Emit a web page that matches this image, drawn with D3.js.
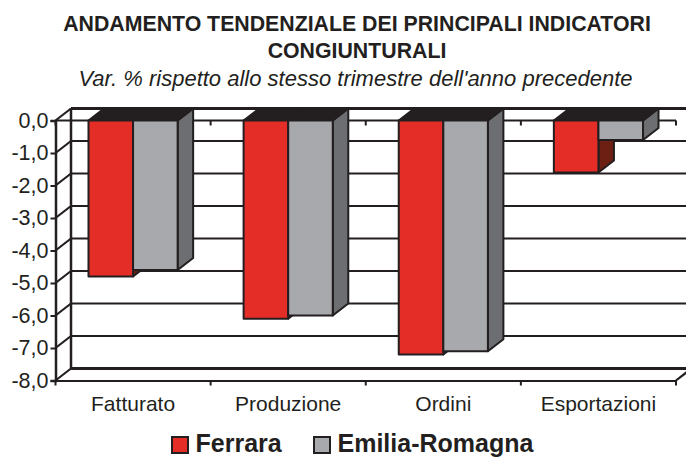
<!DOCTYPE html>
<html>
<head>
<meta charset="utf-8">
<script src="https://cdnjs.cloudflare.com/ajax/libs/d3/7.8.5/d3.min.js"></script>
<style>
  html, body { margin: 0; padding: 0; background: #fff; }
  svg { display: block; font-family: "Liberation Sans", Arial, sans-serif; }
  text { fill: #231f20; }
</style>
</head>
<body>
<svg id="chart" width="686" height="457"></svg>
<script>
const categories = ["Fatturato", "Produzione", "Ordini", "Esportazioni"];
const seriesNames = ["Ferrara", "Emilia-Romagna"];
const ferrara = [-4.8, -6.1, -7.2, -1.6];
const emilia = [-4.6, -6.0, -7.1, -0.6];
const yTicks = [0, -1, -2, -3, -4, -5, -6, -7, -8];
const titleLines = ["ANDAMENTO TENDENZIALE DEI PRINCIPALI INDICATORI", "CONGIUNTURALI"];
const subtitle = "Var. % rispetto allo stesso trimestre dell'anno precedente";

const INK = "#231f20";
const fronts = ["#e52d27", "#a7a9ac"];
const sides = ["#6e1f14", "#6d6e71"];

const plotLeft = 55.5, plotRight = 676, plotTop = 120.5, plotBottom = 380.5;
const dx = 15.5, dy = -12;

let svg = d3.select("#chart");

let x = d3.scaleBand().domain(categories).range([plotLeft, plotRight]);
let xInner = d3.scaleBand().domain(seriesNames).range([0, x.bandwidth()]).paddingOuter(0.74).paddingInner(0);
let y = d3.scaleLinear().domain([0, -8]).range([plotTop, plotBottom]);

// TITLES
svg.selectAll(".title")
  .data(titleLines)
  .enter()
  .append("text")
  .attr("class", "title")
  .attr("x", 357)
  .attr("y", (d, i) => 31 + i * 27)
  .attr("text-anchor", "middle")
  .style("font-size", "21.3px")
  .style("font-weight", "bold")
  .text(d => d);
svg.append("text")
  .attr("x", 355.5)
  .attr("y", 85.5)
  .attr("text-anchor", "middle")
  .style("font-size", "22px")
  .style("font-style", "italic")
  .text(subtitle);

// BACK WALL AND GRIDLINES
let grid = svg.append("g");
grid.selectAll("line.grid")
  .data(yTicks)
  .enter()
  .append("line")
  .attr("class", "grid")
  .attr("x1", plotLeft + dx)
  .attr("x2", 686)
  .attr("y1", d => y(d) + dy)
  .attr("y2", d => y(d) + dy)
  .attr("stroke", INK)
  .attr("stroke-width", d => (d === 0 || d === -8 ? 3 : 2.2));
grid.selectAll("line.wall")
  .data(yTicks)
  .enter()
  .append("line")
  .attr("class", "wall")
  .attr("x1", plotLeft)
  .attr("x2", plotLeft + dx)
  .attr("y1", d => y(d))
  .attr("y2", d => y(d) + dy)
  .attr("stroke", INK)
  .attr("stroke-width", 2.2);
grid.append("line")
  .attr("x1", plotLeft + dx)
  .attr("x2", plotLeft + dx)
  .attr("y1", y(0) + dy)
  .attr("y2", y(-8) + dy)
  .attr("stroke", INK)
  .attr("stroke-width", 2.5);
grid.append("line")
  .attr("x1", plotRight)
  .attr("x2", plotRight + dx)
  .attr("y1", y(-8))
  .attr("y2", y(-8) + dy)
  .attr("stroke", INK)
  .attr("stroke-width", 2.2);

// FRONT AXIS AT ZERO WITH ITS INSIDE TICKS
let boundaries = x.domain().map(d => x(d) + x.bandwidth()).concat([plotLeft]);
svg.append("line")
  .attr("x1", plotLeft)
  .attr("x2", plotRight)
  .attr("y1", y(0))
  .attr("y2", y(0))
  .attr("stroke", INK)
  .attr("stroke-width", 1.8);
svg.selectAll("line.zeroTick")
  .data(boundaries)
  .enter()
  .append("line")
  .attr("class", "zeroTick")
  .attr("x1", d => d)
  .attr("x2", d => d)
  .attr("y1", y(0))
  .attr("y2", y(0) + 5)
  .attr("stroke", INK)
  .attr("stroke-width", 2);

// BARS
function poly(pts) {
  return "M" + pts.map(p => p.join(",")).join("L") + "Z";
}
let barData = [];
categories.forEach((c, i) => {
  barData.push({ cat: c, s: 0, v: ferrara[i] });
  barData.push({ cat: c, s: 1, v: emilia[i] });
});
let bars = svg.append("g")
  .selectAll("g")
  .data(barData)
  .enter()
  .append("g")
  .attr("stroke", INK)
  .attr("stroke-width", 2)
  .attr("stroke-linejoin", "round");
function barX(d) {
  return x(d.cat) + xInner(seriesNames[d.s]);
}
// side face
bars.append("path")
  .attr("fill", d => sides[d.s])
  .attr("d", d => {
    let x1 = barX(d) + xInner.bandwidth();
    return poly([[x1, y(0)], [x1 + dx, y(0) + dy], [x1 + dx, y(d.v) + dy], [x1, y(d.v)]]);
  });
// top face
bars.append("path")
  .attr("fill", INK)
  .attr("d", d => {
    let x0 = barX(d), x1 = x0 + xInner.bandwidth();
    return poly([[x0, y(0)], [x0 + dx, y(0) + dy], [x1 + dx, y(0) + dy], [x1, y(0)]]);
  });
// front face
bars.append("rect")
  .attr("x", barX)
  .attr("y", y(0))
  .attr("width", xInner.bandwidth())
  .attr("height", d => y(d.v) - y(0))
  .attr("fill", d => fronts[d.s]);

// AXES
let yAxis = d3.axisLeft(y)
  .tickValues(yTicks)
  .tickSize(5)
  .tickPadding(2)
  .tickFormat(d => d3.format(".1f")(d).replace(".", ",").replace("−", "-"));
let yG = svg.append("g")
  .attr("transform", "translate(" + plotLeft + ",0)")
  .call(yAxis);
yG.select(".domain").attr("stroke", INK).attr("stroke-width", 2.5);
yG.selectAll(".tick line").attr("stroke", INK).attr("stroke-width", 2);
yG.selectAll("text").style("font-size", "21.5px").style("fill", INK);

let xAxis = d3.axisBottom(x).tickSize(0).tickPadding(16);
let xG = svg.append("g")
  .attr("transform", "translate(0," + plotBottom + ")")
  .call(xAxis);
xG.select(".domain").attr("stroke", INK).attr("stroke-width", 2.2);
xG.selectAll("text").style("font-size", "21px").style("fill", INK);
svg.selectAll("line.bottomTick")
  .data(boundaries)
  .enter()
  .append("line")
  .attr("class", "bottomTick")
  .attr("x1", d => d)
  .attr("x2", d => d)
  .attr("y1", plotBottom)
  .attr("y2", plotBottom + 5)
  .attr("stroke", INK)
  .attr("stroke-width", 2);

// LEGEND
let legendX = [172, 314];
let legend = svg.selectAll("g.legend")
  .data(seriesNames)
  .enter()
  .append("g")
  .attr("class", "legend")
  .attr("transform", (d, i) => "translate(" + legendX[i] + ",437)");
legend.append("rect")
  .attr("width", 16)
  .attr("height", 16)
  .attr("fill", (d, i) => fronts[i])
  .attr("stroke", INK)
  .attr("stroke-width", 2);
legend.append("text")
  .attr("x", 23.5)
  .attr("y", 14.5)
  .style("font-size", "25px")
  .style("font-weight", "bold")
  .text(d => d);
</script>
</body>
</html>
